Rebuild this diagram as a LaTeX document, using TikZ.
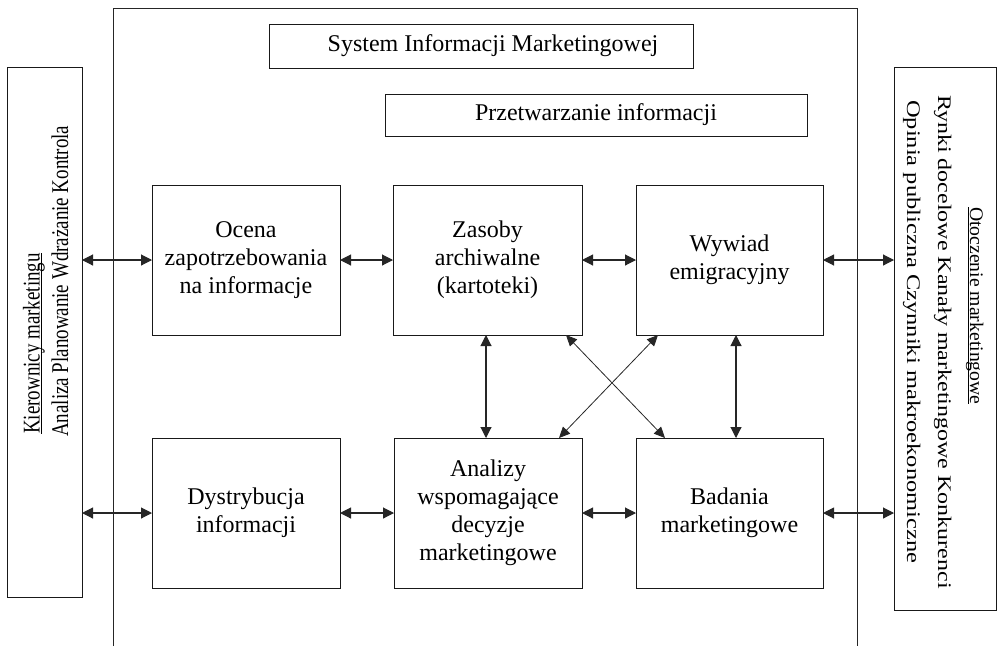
\documentclass[tikz,border=0pt]{standalone}
\usepackage{fontspec}
\setmainfont{Liberation Serif}
\usetikzlibrary{arrows.meta}
\newcommand{\myul}[1]{\setbox0\hbox{#1}\rlap{\rule[-2.5pt]{\wd0}{1pt}}\box0}
\begin{document}
\begin{tikzpicture}[x=1pt,y=-1pt,
  box/.style={draw=black!90, line width=1pt, inner sep=0pt, outer sep=0pt, align=center,
    font=\fontsize{24pt}{28pt}\selectfont},
  conn/.style={draw=black!85, line width=1.1pt,
    {Triangle[length=11pt,width=11pt]}-{Triangle[length=11pt,width=11pt]}},
  diag/.style={draw=black!85, line width=0.8pt,
    {Triangle[length=11pt,width=10pt]}-{Triangle[length=11pt,width=10pt]}},
  side/.style={font=\fontsize{24pt}{28pt}\selectfont, inner sep=0pt, anchor=base west}]
\useasboundingbox (0,0) rectangle (998,646);
% outer frame (open at the bottom)
\draw[line width=1pt, black!85] (113,646) -- (113,8) -- (857,8) -- (857,646);
% header boxes
\node[box, minimum width=424pt, minimum height=44pt] (sim) at (481,46) {\hspace*{24pt}System Informacji Marketingowej};
\node[box, minimum width=422pt, minimum height=42pt] (przet) at (596,115) {Przetwarzanie informacji};
% side boxes
\node[box, minimum width=75pt, minimum height=530pt] (kier) at (44.5,332) {};
\node[box, minimum width=102pt, minimum height=543pt] (otocz) at (945,338.5) {};
% side texts
\node[side, rotate=90] (kl1) at (39.5,434) {\scalebox{0.79}[1]{\myul{Kierownicy marketingu}}};
\node[side, rotate=90] (kl2) at (68,437) {\scalebox{0.79}[1]{Analiza Planowanie Wdrażanie Kontrola}};
\node[side, rotate=-90] (ol1) at (970,207) {\scalebox{0.82}[0.8]{\myul{Otoczenie marketingowe}}};
\node[side, rotate=-90] (ol2) at (938,95) {\scalebox{1}[0.8]{Rynki docelowe Kanały marketingowe Konkurenci}};
\node[side, rotate=-90] (ol3) at (907,100) {\scalebox{1.02}[0.8]{Opinia publiczna Czynniki makroekonomiczne}};
% process boxes
\node[box, minimum width=188pt, minimum height=150pt] (ocena) at (246,260) {Ocena\\zapotrzebowania\\na informacje};
\node[box, minimum width=189pt, minimum height=150pt] (zasoby) at (487.5,260) {Zasoby\\archiwalne\\(kartoteki)};
\node[box, minimum width=187pt, minimum height=150pt] (wywiad) at (729.5,260) {Wywiad\\emigracyjny};
\node[box, minimum width=188pt, minimum height=150pt] (dystr) at (246,513) {Dystrybucja\\informacji};
\node[box, minimum width=188pt, minimum height=150pt] (analizy) at (488,513) {Analizy\\wspomagające\\decyzje\\marketingowe};
\node[box, minimum width=187pt, minimum height=150pt] (badania) at (729.5,513) {Badania\\marketingowe};
% connectors
\draw[conn] (kier.east |- ocena.west) -- (ocena.west);
\draw[conn] (kier.east |- dystr.west) -- (dystr.west);
\draw[conn] (ocena.east) -- (zasoby.west);
\draw[conn] (zasoby.east) -- (wywiad.west);
\draw[conn] (dystr.east) -- (analizy.west);
\draw[conn] (analizy.east) -- (badania.west);
\draw[conn] (wywiad.east) -- (otocz.west |- wywiad.east);
\draw[conn] (badania.east) -- (otocz.west |- badania.east);
\draw[conn] ([xshift=-1.5pt]zasoby.south) -- ([xshift=-2pt]analizy.north);
\draw[conn] ([xshift=6.5pt]wywiad.south) -- ([xshift=6.5pt]badania.north);
\draw[diag] ([xshift=-16pt]zasoby.south east) -- ([xshift=29pt]badania.north west);
\draw[diag] ([xshift=22pt]wywiad.south west) -- ([xshift=-23pt]analizy.north east);
\end{tikzpicture}
\end{document}
